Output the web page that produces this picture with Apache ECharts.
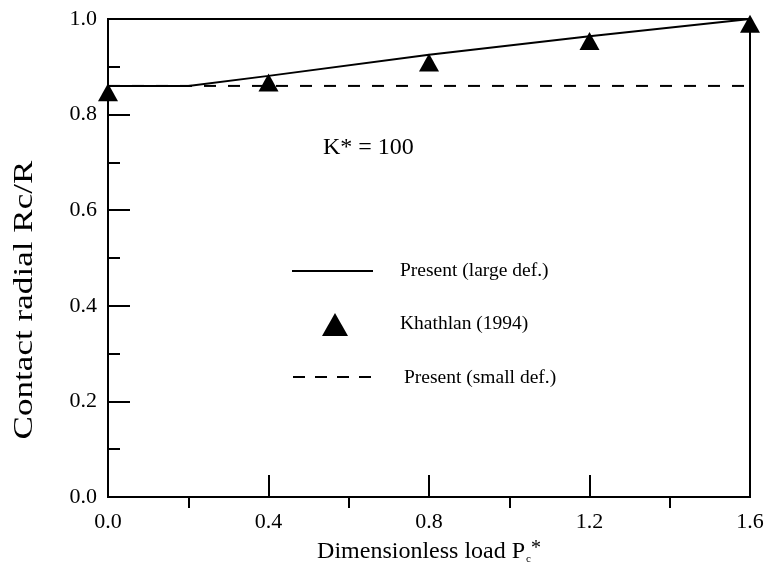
<!DOCTYPE html>
<html>
<head>
<meta charset="utf-8">
<script src="https://cdn.jsdelivr.net/npm/echarts@6/dist/echarts.min.js"></script>
<style>
  html, body { margin: 0; padding: 0; background: #fff; }
  #chart { width: 768px; height: 571px; }
</style>
</head>
<body>
<div id="chart"></div>
<script>
// data
var largeDefX = [0, 0.2, 0.4, 0.8, 1.2, 1.6];
var largeDefY = [0.86, 0.86, 0.881, 0.925, 0.964, 1.0];
var khathlanX = [0, 0.4, 0.8, 1.2, 1.6];
var khathlanY = [0.847, 0.867, 0.909, 0.954, 0.99];
var smallDefX = [0, 1.6];
var smallDefY = [0.86, 0.86];
var xMinorTicks = [0.2, 0.6, 1.0, 1.4];
var legendNames = ["Present (large def.)", "Khathlan (1994)", "Present (small def.)"];

var FONT = "Liberation Serif";

function pairs(xs, ys) {
  var out = [];
  for (var i = 0; i < xs.length; i++) out.push([xs[i], ys[i]]);
  return out;
}

var chart = echarts.init(document.getElementById("chart"));

// legend drawn by hand so the sample glyphs keep the figure's sizes
var legendGraphics = [
  { type: "line", shape: { x1: 292, y1: 271, x2: 373, y2: 271 }, style: { stroke: "#000", lineWidth: 2 } },
  { type: "polygon", shape: { points: [[335, 313], [322, 336], [348, 336]] }, style: { fill: "#000" } },
  { type: "line", shape: { x1: 293, y1: 377, x2: 378, y2: 377 }, style: { stroke: "#000", lineWidth: 2, lineDash: [12, 10] } },
  { type: "text", x: 400, y: 271, style: { text: legendNames[0], fontFamily: FONT, fontSize: 19.5, fill: "#000", verticalAlign: "middle" } },
  { type: "text", x: 400, y: 324, style: { text: legendNames[1], fontFamily: FONT, fontSize: 19.5, fill: "#000", verticalAlign: "middle" } },
  { type: "text", x: 404, y: 378, style: { text: legendNames[2], fontFamily: FONT, fontSize: 19.5, fill: "#000", verticalAlign: "middle" } }
];

chart.setOption({
  backgroundColor: "#fff",
  animation: false,
  grid: {
    left: 108, right: 18, top: 19, bottom: 74,
    outerBoundsMode: "none",
    show: true, borderColor: "#000", borderWidth: 2
  },
  xAxis: [
    {
      type: "value", min: 0, max: 1.6, interval: 0.4,
      name: "Dimensionless load P{sub|c}{sup|*}",
      nameLocation: "middle", nameGap: 42,
      nameTextStyle: {
        fontFamily: FONT, fontSize: 24, color: "#000",
        rich: {
          sub: { fontFamily: FONT, fontSize: 11, color: "#000", verticalAlign: "bottom", padding: [8, 0, 0, 1] },
          sup: { fontFamily: FONT, fontSize: 20, color: "#000", verticalAlign: "top", padding: [0, 0, 6, 0] }
        }
      },
      axisLine: { lineStyle: { color: "#000", width: 2 } },
      axisTick: { inside: true, length: 22, lineStyle: { color: "#000", width: 2 } },
      axisLabel: {
        margin: 14, fontFamily: FONT, fontSize: 22, color: "#000",
        formatter: function (v) { return v.toFixed(1); }
      },
      splitLine: { show: false }
    },
    {
      // outward minor ticks on the bottom edge
      type: "value", min: 0, max: 1.6, position: "bottom", gridIndex: 0,
      axisLine: { show: false },
      axisTick: { show: true, inside: false, length: 11, customValues: xMinorTicks, lineStyle: { color: "#000", width: 2 } },
      axisLabel: { show: false },
      splitLine: { show: false }
    }
  ],
  yAxis: {
    type: "value", min: 0, max: 1.0, interval: 0.2,
    axisLine: { lineStyle: { color: "#000", width: 2 } },
    axisTick: { inside: true, length: 22, lineStyle: { color: "#000", width: 2 } },
    minorTick: { show: true, splitNumber: 2, length: 12, lineStyle: { color: "#000", width: 2 } },
    axisLabel: {
      margin: 11, fontFamily: FONT, fontSize: 22, color: "#000",
      formatter: function (v) { return v.toFixed(1); }
    },
    splitLine: { show: false }
  },
  graphic: [
    {
      // y axis title, stretched along its length like the scanned figure
      type: "text", x: 25, y: 300, rotation: Math.PI / 2, scaleX: 1.3,
      style: { text: "Contact radial Rc/R", fontFamily: FONT, fontSize: 27, fill: "#000", align: "center", verticalAlign: "middle" }
    },
    {
      type: "text", x: 323, y: 148,
      style: { text: "K* = 100", fontFamily: FONT, fontSize: 24, fill: "#000", verticalAlign: "middle" }
    }
  ].concat(legendGraphics),
  series: [
    {
      name: legendNames[0], type: "line",
      data: pairs(largeDefX, largeDefY),
      symbol: "none", z: 3,
      lineStyle: { color: "#000", width: 2 },
      itemStyle: { color: "#000" }
    },
    {
      name: legendNames[1], type: "scatter",
      data: pairs(khathlanX, khathlanY),
      symbol: "triangle", symbolSize: [20, 18], z: 4,
      itemStyle: { color: "#000", opacity: 1 }
    },
    {
      name: legendNames[2], type: "line",
      data: pairs(smallDefX, smallDefY),
      symbol: "none", z: 2,
      lineStyle: { color: "#000", width: 2, type: [12, 12] },
      itemStyle: { color: "#000" }
    }
  ]
});
</script>
</body>
</html>
